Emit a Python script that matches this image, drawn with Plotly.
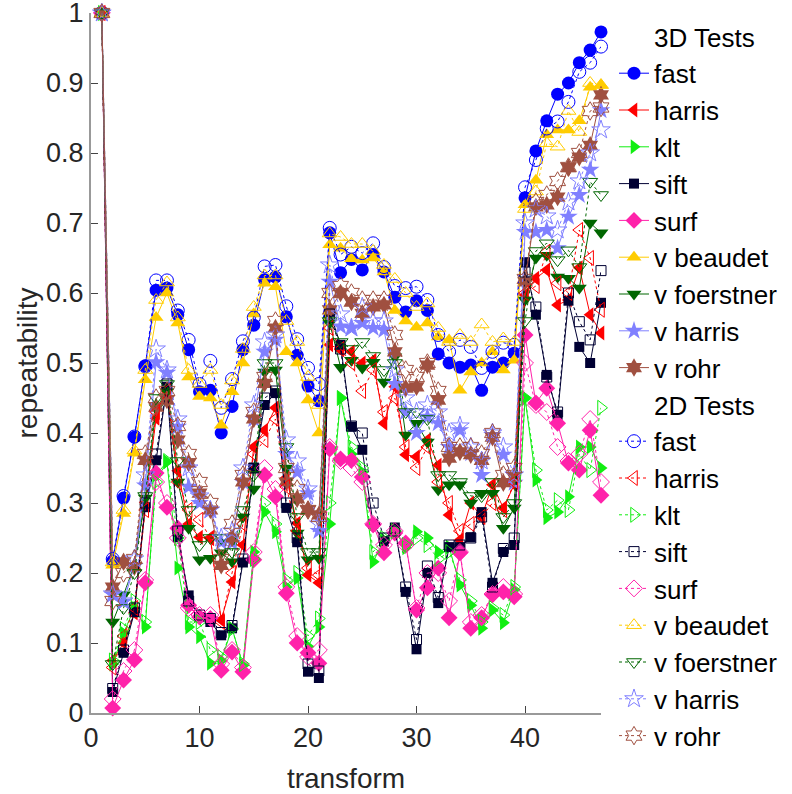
import plotly.graph_objects as go

x = list(range(1, 48))

fast_3d = [1, 0.217, 0.307, 0.394, 0.496, 0.604, 0.607, 0.569, 0.519, 0.459, 0.461, 0.40, 0.438, 0.519, 0.554, 0.619, 0.623, 0.566, 0.511, 0.467, 0.446, 0.686, 0.629, 0.648, 0.633, 0.655, 0.63, 0.594, 0.573, 0.589, 0.575, 0.513, 0.5, 0.494, 0.497, 0.461, 0.494, 0.5, 0.514, 0.736, 0.803, 0.846, 0.884, 0.9, 0.929, 0.947, 0.973]
harris_3d = [1, 0.075, 0.1, 0.143, 0.301, 0.421, 0.465, 0.346, 0.27, 0.251, 0.25, 0.133, 0.187, 0.24, 0.38, 0.404, 0.436, 0.336, 0.271, 0.197, 0.186, 0.526, 0.519, 0.516, 0.5, 0.504, 0.414, 0.466, 0.369, 0.366, 0.39, 0.354, 0.283, 0.247, 0.3, 0.28, 0.326, 0.293, 0.326, 0.597, 0.621, 0.633, 0.583, 0.59, 0.636, 0.569, 0.543]
klt_3d = [1, 0.07, 0.114, 0.15, 0.123, 0.34, 0.359, 0.207, 0.123, 0.109, 0.071, 0.075, 0.121, 0.068, 0.23, 0.287, 0.259, 0.18, 0.193, 0.095, 0.123, 0.27, 0.45, 0.37, 0.344, 0.216, 0.247, 0.26, 0.236, 0.259, 0.25, 0.23, 0.237, 0.183, 0.154, 0.121, 0.147, 0.129, 0.176, 0.45, 0.333, 0.279, 0.287, 0.309, 0.38, 0.38, 0.35]
sift_3d = [1, 0.03, 0.086, 0.144, 0.294, 0.361, 0.466, 0.251, 0.168, 0.137, 0.13, 0.111, 0.121, 0.215, 0.35, 0.44, 0.457, 0.293, 0.244, 0.059, 0.05, 0.573, 0.526, 0.409, 0.376, 0.27, 0.245, 0.265, 0.173, 0.091, 0.2, 0.157, 0.237, 0.237, 0.251, 0.287, 0.186, 0.23, 0.24, 0.644, 0.569, 0.483, 0.426, 0.589, 0.523, 0.5, 0.586]
surf_3d = [1, 0.007, 0.047, 0.076, 0.186, 0.343, 0.294, 0.264, 0.154, 0.137, 0.135, 0.061, 0.087, 0.059, 0.219, 0.34, 0.309, 0.171, 0.1, 0.086, 0.071, 0.377, 0.363, 0.361, 0.337, 0.269, 0.229, 0.257, 0.243, 0.147, 0.179, 0.207, 0.136, 0.229, 0.121, 0.136, 0.169, 0.173, 0.166, 0.54, 0.443, 0.464, 0.414, 0.357, 0.347, 0.404, 0.311]
vbeaudet_3d = [1, 0.211, 0.285, 0.371, 0.476, 0.565, 0.6, 0.557, 0.48, 0.452, 0.45, 0.411, 0.459, 0.5, 0.57, 0.614, 0.609, 0.516, 0.5, 0.447, 0.4, 0.669, 0.664, 0.649, 0.647, 0.65, 0.63, 0.575, 0.56, 0.551, 0.557, 0.537, 0.533, 0.461, 0.487, 0.5, 0.516, 0.49, 0.504, 0.726, 0.761, 0.826, 0.833, 0.833, 0.846, 0.894, 0.897]
vfoerstner_3d = [1, 0.13, 0.169, 0.211, 0.307, 0.436, 0.459, 0.33, 0.264, 0.219, 0.221, 0.229, 0.216, 0.28, 0.32, 0.487, 0.49, 0.35, 0.257, 0.219, 0.221, 0.557, 0.494, 0.504, 0.493, 0.501, 0.473, 0.509, 0.397, 0.414, 0.387, 0.319, 0.326, 0.326, 0.3, 0.314, 0.314, 0.264, 0.293, 0.59, 0.65, 0.654, 0.623, 0.621, 0.607, 0.7, 0.686]
vharris_3d = [1, 0.169, 0.159, 0.21, 0.325, 0.501, 0.486, 0.409, 0.323, 0.3, 0.29, 0.244, 0.243, 0.33, 0.42, 0.516, 0.533, 0.37, 0.344, 0.314, 0.26, 0.616, 0.552, 0.55, 0.557, 0.55, 0.547, 0.47, 0.43, 0.4, 0.423, 0.414, 0.38, 0.404, 0.371, 0.34, 0.397, 0.369, 0.329, 0.687, 0.687, 0.69, 0.664, 0.709, 0.74, 0.776, 0.861]
vrohr_3d = [1, 0.18, 0.216, 0.209, 0.361, 0.437, 0.447, 0.39, 0.357, 0.314, 0.29, 0.211, 0.25, 0.33, 0.42, 0.471, 0.55, 0.33, 0.306, 0.29, 0.283, 0.576, 0.6, 0.587, 0.571, 0.58, 0.583, 0.516, 0.464, 0.466, 0.497, 0.447, 0.364, 0.373, 0.369, 0.361, 0.394, 0.329, 0.337, 0.616, 0.723, 0.726, 0.737, 0.779, 0.794, 0.811, 0.883]

fast_2d = [1, 0.22, 0.31, 0.395, 0.495, 0.618, 0.618, 0.575, 0.533, 0.47, 0.503, 0.436, 0.477, 0.531, 0.565, 0.638, 0.64, 0.581, 0.534, 0.493, 0.47, 0.693, 0.655, 0.666, 0.657, 0.671, 0.637, 0.61, 0.607, 0.609, 0.59, 0.54, 0.516, 0.533, 0.523, 0.493, 0.516, 0.529, 0.526, 0.751, 0.79, 0.835, 0.845, 0.873, 0.916, 0.929, 0.952]
harris_2d = [1, 0.065, 0.11, 0.15, 0.29, 0.43, 0.46, 0.33, 0.29, 0.276, 0.25, 0.13, 0.2, 0.27, 0.37, 0.39, 0.42, 0.323, 0.26, 0.207, 0.197, 0.55, 0.52, 0.5, 0.46, 0.49, 0.43, 0.45, 0.38, 0.35, 0.38, 0.33, 0.3, 0.26, 0.27, 0.28, 0.3, 0.29, 0.33, 0.6, 0.61, 0.659, 0.614, 0.6, 0.69, 0.65, 0.576]
klt_2d = [1, 0.075, 0.12, 0.16, 0.13, 0.33, 0.36, 0.25, 0.13, 0.13, 0.09, 0.08, 0.12, 0.07, 0.22, 0.3, 0.27, 0.19, 0.2, 0.11, 0.135, 0.3, 0.45, 0.38, 0.35, 0.23, 0.25, 0.26, 0.24, 0.25, 0.24, 0.22, 0.23, 0.19, 0.16, 0.13, 0.15, 0.14, 0.18, 0.45, 0.347, 0.29, 0.304, 0.29, 0.37, 0.347, 0.436]
sift_2d = [1, 0.035, 0.09, 0.15, 0.3, 0.37, 0.47, 0.26, 0.16, 0.14, 0.135, 0.115, 0.125, 0.22, 0.35, 0.45, 0.46, 0.3, 0.25, 0.07, 0.06, 0.57, 0.52, 0.41, 0.4, 0.3, 0.25, 0.26, 0.18, 0.105, 0.21, 0.165, 0.24, 0.24, 0.25, 0.28, 0.18, 0.235, 0.25, 0.63, 0.58, 0.48, 0.43, 0.6, 0.559, 0.533, 0.632]
surf_2d = [1, 0.02, 0.06, 0.09, 0.19, 0.33, 0.3, 0.25, 0.15, 0.14, 0.14, 0.07, 0.09, 0.065, 0.23, 0.35, 0.32, 0.18, 0.11, 0.08, 0.09, 0.38, 0.36, 0.35, 0.33, 0.27, 0.24, 0.26, 0.24, 0.15, 0.2, 0.2, 0.16, 0.23, 0.13, 0.14, 0.17, 0.18, 0.17, 0.5, 0.44, 0.43, 0.38, 0.36, 0.37, 0.42, 0.33]
vbeaudet_2d = [1, 0.215, 0.29, 0.375, 0.49, 0.59, 0.615, 0.565, 0.49, 0.47, 0.49, 0.44, 0.475, 0.52, 0.58, 0.625, 0.625, 0.56, 0.53, 0.48, 0.44, 0.685, 0.68, 0.67, 0.67, 0.66, 0.64, 0.62, 0.6, 0.58, 0.585, 0.55, 0.53, 0.54, 0.53, 0.555, 0.53, 0.535, 0.53, 0.72, 0.745, 0.814, 0.809, 0.86, 0.83, 0.9, 0.897]
vfoerstner_2d = [1, 0.07, 0.15, 0.2, 0.31, 0.45, 0.47, 0.36, 0.29, 0.24, 0.25, 0.25, 0.23, 0.29, 0.34, 0.5, 0.5, 0.38, 0.28, 0.23, 0.23, 0.56, 0.53, 0.52, 0.53, 0.51, 0.49, 0.5, 0.43, 0.43, 0.42, 0.34, 0.34, 0.33, 0.31, 0.31, 0.33, 0.28, 0.3, 0.56, 0.66, 0.671, 0.647, 0.661, 0.637, 0.759, 0.74]
vharris_2d = [1, 0.17, 0.16, 0.22, 0.34, 0.52, 0.49, 0.42, 0.35, 0.31, 0.29, 0.25, 0.26, 0.35, 0.44, 0.53, 0.54, 0.39, 0.36, 0.32, 0.27, 0.64, 0.57, 0.55, 0.58, 0.56, 0.56, 0.49, 0.45, 0.43, 0.44, 0.43, 0.4, 0.41, 0.38, 0.36, 0.4, 0.38, 0.34, 0.7, 0.72, 0.71, 0.69, 0.73, 0.76, 0.8, 0.833]
vrohr_2d = [1, 0.16, 0.2, 0.22, 0.37, 0.45, 0.46, 0.41, 0.37, 0.33, 0.3, 0.22, 0.27, 0.34, 0.43, 0.48, 0.56, 0.35, 0.32, 0.29, 0.28, 0.6, 0.61, 0.6, 0.59, 0.59, 0.59, 0.54, 0.49, 0.48, 0.5, 0.46, 0.38, 0.38, 0.38, 0.37, 0.4, 0.34, 0.35, 0.62, 0.73, 0.74, 0.76, 0.78, 0.8, 0.86, 0.865]

y_ticks = [0, 0.1, 0.2, 0.3, 0.4, 0.5, 0.6, 0.7, 0.8, 0.9, 1]
y_tick_labels = ["0", "0.1", "0.2", "0.3", "0.4", "0.5", "0.6", "0.7", "0.8", "0.9", "1"]
x_ticks = [0, 10, 20, 30, 40]

names = ["fast", "harris", "klt", "sift", "surf", "v beaudet", "v foerstner", "v harris", "v rohr"]
colors = ["#0000FF", "#FF0000", "#11EE11", "#000033", "#FF22AA", "#FFCC00", "#006600", "#8080FF", "#A05040"]
symbols = ["circle", "triangle-left", "triangle-right", "square", "diamond", "triangle-up", "triangle-down", "star", "hexagram"]
sizes = [13, 13, 13, 10, 13, 13, 13, 14, 14]
data_3d = [fast_3d, harris_3d, klt_3d, sift_3d, surf_3d, vbeaudet_3d, vfoerstner_3d, vharris_3d, vrohr_3d]
data_2d = [fast_2d, harris_2d, klt_2d, sift_2d, surf_2d, vbeaudet_2d, vfoerstner_2d, vharris_2d, vrohr_2d]

FONT = "Liberation Sans, Arial, sans-serif"
TXT = "#262626"

fig = go.Figure()

def header(text):
    fig.add_trace(go.Scatter(x=[None], y=[None], mode="markers", name=text,
                             marker=dict(color="rgba(0,0,0,0)", size=1),
                             hoverinfo="skip"))

header("3D Tests")
for n, c, s, sz, d in zip(names, colors, symbols, sizes, data_3d):
    fig.add_trace(go.Scatter(x=x, y=d, mode="lines+markers", name=n,
                             line=dict(color=c, width=1),
                             marker=dict(symbol=s, size=sz, color=c, line=dict(width=0)),
                             cliponaxis=False))
header("2D Tests")
for n, c, s, sz, d in zip(names, colors, symbols, sizes, data_2d):
    fig.add_trace(go.Scatter(x=x, y=d, mode="lines+markers", name=n,
                             line=dict(color=c, width=1, dash="dot"),
                             marker=dict(symbol=s + "-open", size=sz, color=c, line=dict(width=1)),
                             cliponaxis=False))

fig.update_layout(
    width=792, height=794,
    margin=dict(l=91, r=191, t=13, b=81, autoexpand=False),
    paper_bgcolor="white", plot_bgcolor="white",
    font=dict(family=FONT, size=27, color=TXT),
    legend=dict(x=1.0255, xanchor="left", y=1.0, yanchor="top",
                maxheight=790,
                font=dict(size=26, color="black"), tracegroupgap=0,
                bgcolor="rgba(0,0,0,0)", borderwidth=0),
    showlegend=True,
)
fig.update_xaxes(range=[0, 47], tickvals=x_ticks, showgrid=False, zeroline=False,
                 showline=True, linecolor="#999999", linewidth=2,
                 ticks="inside", ticklen=7, tickcolor="#444444",
                 ticklabeloverflow="allow",
                 title=dict(text="transform", standoff=20, font=dict(size=28, color=TXT)),
                 tickfont=dict(size=27, color=TXT))
fig.update_yaxes(range=[0, 1], tickvals=y_ticks, ticktext=y_tick_labels,
                 showgrid=False, zeroline=False,
                 showline=True, linecolor="#999999", linewidth=2,
                 ticks="inside", ticklen=7, tickcolor="#444444",
                 ticklabeloverflow="allow",
                 title=dict(text="repeatability", standoff=0, font=dict(size=28, color=TXT)),
                 tickfont=dict(size=27, color=TXT))

fig.write_html("out.html", config={"displayModeBar": False},
               post_script="document.body.style.margin='0px';")
